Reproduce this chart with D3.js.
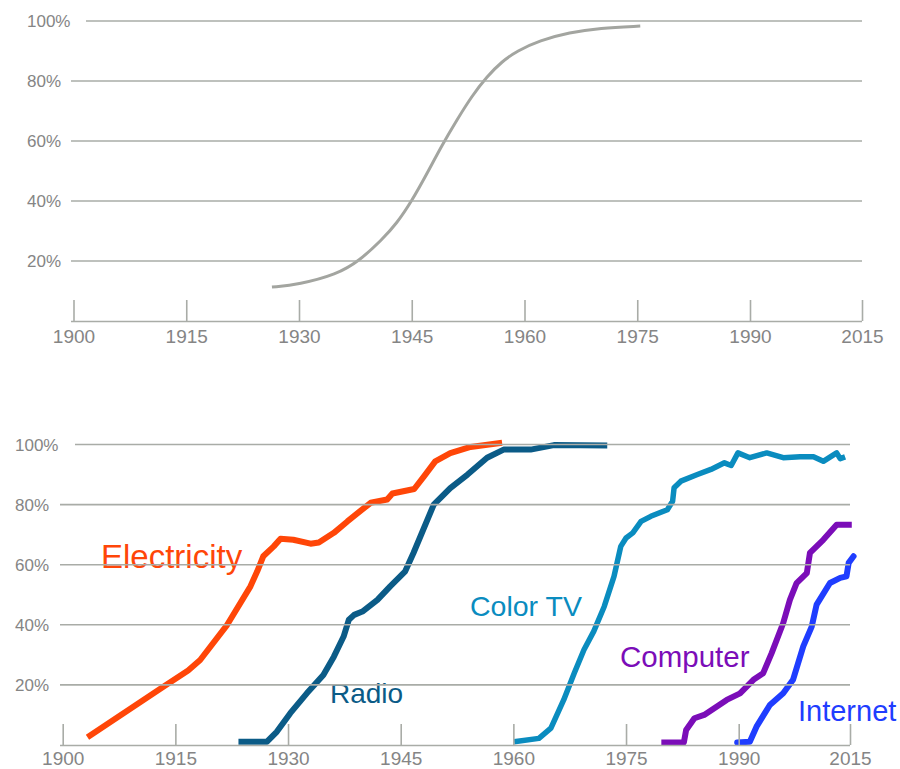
<!DOCTYPE html>
<html>
<head>
<meta charset="utf-8">
<script src="https://cdn.jsdelivr.net/npm/d3@7"></script>
<style>
  html, body { margin: 0; padding: 0; background: #ffffff; }
  svg { display: block; font-family: "Helvetica Neue", Helvetica, Arial, "Liberation Sans", sans-serif; }
</style>
</head>
<body>
<svg id="chart" width="900" height="769"></svg>
<script>
// Axis ticks shared by both panels
const yearTicks = [1900, 1915, 1930, 1945, 1960, 1975, 1990, 2015];
const shareTicks = [20, 40, 60, 80, 100];

// Idealised adoption S-curve (upper panel)
const sCurveYears = [1926.4, 1930, 1935, 1938, 1941, 1943, 1945, 1947, 1949, 1951, 1953, 1955, 1957, 1959, 1962, 1966, 1970, 1975.4];
const sCurveShare = [11.3, 12.2, 15.5, 20, 27, 32.5, 40, 49, 58.5, 67, 75, 81.5, 86.5, 90, 93.5, 96.2, 97.6, 98.3];

// Household adoption by technology (lower panel)
const electricityYears = [1903.3, 1913.4, 1916.7, 1918.3, 1921.9, 1925, 1925.9, 1926.7, 1928.1, 1929, 1930.7, 1933, 1934.1, 1936.1, 1937.9, 1939.6, 1941, 1943.2, 1943.9, 1946.8, 1948.1, 1949.6, 1951.6, 1954.3, 1958.5];
const electricityShare = [2.6, 19.4, 24.8, 28.3, 40, 52.8, 57.8, 62.8, 66.1, 68.6, 68.3, 67, 67.4, 70.6, 74.4, 77.8, 80.6, 81.7, 83.7, 85.2, 89.4, 94.4, 97.1, 99.2, 100.6];

const radioYears = [1923.4, 1927.2, 1928.5, 1930.3, 1932.5, 1934.7, 1936.1, 1937.4, 1938.1, 1938.8, 1939.9, 1941.9, 1943.6, 1945.6, 1946.7, 1949.4, 1951.6, 1953.9, 1956.5, 1958.7, 1962.3, 1965.4, 1972.5];
const radioShare = [1.1, 1.1, 4.4, 10.6, 17.2, 23.3, 29.4, 36.1, 41.7, 43.3, 44.4, 48.3, 52.8, 57.8, 63.9, 80, 85.5, 90, 95.6, 98.3, 98.3, 99.8, 99.7];

const colorTvYears = [1960.1, 1963.4, 1965, 1966.7, 1968.1, 1969.4, 1970.7, 1972.1, 1973.4, 1974.3, 1975, 1975.9, 1977, 1978.3, 1980.5, 1981.2, 1981.4, 1982.3, 1984.5, 1986.3, 1988.1, 1989, 1989.9, 1992.5, 1996.3, 2000, 2003.8, 2006.8, 2009, 2012, 2012.8, 2013.9];
const colorTvShare = [1.1, 2.2, 5.6, 15, 23.9, 31.7, 37.8, 46.1, 56.1, 66.1, 68.9, 70.6, 74.4, 76.1, 78.3, 81.1, 85.6, 87.8, 90, 91.7, 93.9, 93, 97.2, 95.6, 97.2, 95.6, 95.9, 95.9, 94.4, 97.2, 95.3, 95.9];

const computerYears = [1979.7, 1982.7, 1983, 1984.1, 1985.4, 1988.4, 1990.3, 1993.3, 1995.5, 1997.4, 2000, 2001.5, 2003, 2005.3, 2006, 2009, 2012, 2015.4];
const computerShare = [0.8, 0.8, 5, 8.9, 10, 15, 17.2, 21.7, 23.9, 30.6, 40.6, 48.3, 53.9, 57.2, 63.9, 68.3, 73.3, 73.3];

const internetYears = [1989.8, 1992.5, 1994, 1997, 2000, 2002.2, 2004.5, 2006.4, 2007.5, 2010.5, 2012.8, 2014.2, 2014.7, 2015.8];
const internetShare = [0.8, 1.1, 6.1, 13.3, 17.2, 21.7, 32.8, 39.4, 46.7, 53.9, 55.6, 56.1, 60.6, 62.8];

const seriesNames = ["Electricity", "Radio", "Color TV", "Computer", "Internet"];
const seriesColors = ["#ff4608", "#0b5b87", "#0a8cbf", "#7b0db8", "#1f3dff"];

const gridColor = "#a9aca7";
const textGray = "#858585";

const svg = d3.select("#chart");

function zip(xs, ys) { return xs.map((x, i) => ({ year: x, share: ys[i] })); }

// Draws one panel: frame (gridlines, ticks, labels) plus a set of lines
function drawPanel(cfg) {
  const x = d3.scaleLinear()
    .domain([1900, 1990, 2015])
    .range([cfg.x0, cfg.x1990, cfg.x2015]);
  const y = d3.scaleLinear().domain([0, 100]).range([cfg.yBottom, cfg.yTop]);

  const g = svg.append("g");
  const linesG = g.append("g");
  const frameG = g.append("g");

  // bottom axis with upward ticks
  const xAxis = d3.axisBottom(x)
    .tickValues(yearTicks)
    .tickFormat(d3.format("d"))
    .tickSizeInner(-cfg.tickLen)
    .tickSizeOuter(0)
    .tickPadding(cfg.labelPad);
  const ax = frameG.append("g")
    .attr("transform", `translate(0,${cfg.yBottom})`)
    .call(xAxis);
  ax.select(".domain")
    .attr("d", `M${cfg.gridStart},0.5H${cfg.x2015}`)
    .attr("stroke", gridColor).attr("stroke-width", 1.6);
  ax.selectAll(".tick line").attr("stroke", gridColor).attr("stroke-width", 1.6);
  ax.selectAll(".tick text")
    .attr("fill", textGray)
    .attr("font-size", 19)
    .attr("font-family", null);

  // horizontal gridlines with left-aligned percentage labels
  const grid = frameG.append("g");
  grid.selectAll("line")
    .data(shareTicks)
    .join("line")
    .attr("x1", d => d === 100 ? cfg.gridStart + 15 : cfg.gridStart)
    .attr("x2", cfg.x2015)
    .attr("y1", d => y(d))
    .attr("y2", d => y(d))
    .attr("stroke", gridColor)
    .attr("stroke-width", 1.6);
  grid.selectAll("text")
    .data(shareTicks)
    .join("text")
    .attr("x", cfg.labelX)
    .attr("y", d => y(d))
    .attr("dy", "0.36em")
    .attr("fill", textGray)
    .attr("font-size", 17)
    .text(d => d + "%");

  const line = d3.line()
    .x(d => x(d.year))
    .y(d => y(d.share))
    .curve(cfg.curve);

  cfg.series.forEach(s => {
    linesG.append("path")
      .datum(s.data)
      .attr("d", line)
      .attr("fill", "none")
      .attr("stroke", s.color)
      .attr("stroke-width", s.width)
      .attr("stroke-linejoin", "round")
      .attr("stroke-linecap", s.cap || "butt");
  });

  return { x, y, g: linesG };
}

// Upper panel: the generic S-curve
drawPanel({
  x0: 73.5, x1990: 750, x2015: 862,
  yTop: 21, yBottom: 321,
  gridStart: 71, labelX: 27, tickLen: 21, labelPad: 9,
  curve: d3.curveBasis,
  series: [{ data: zip(sCurveYears, sCurveShare), color: "#a3a5a0", width: 3, cap: "butt" }]
});

// Lower panel: real technologies
const lower = drawPanel({
  x0: 62.7, x1990: 738.7, x2015: 850,
  yTop: 444.5, yBottom: 745,
  gridStart: 60, labelX: 15, tickLen: 21, labelPad: 7,
  curve: d3.curveLinear,
  series: [
    { data: zip(electricityYears, electricityShare), color: seriesColors[0], width: 6 },
    { data: zip(radioYears, radioShare), color: seriesColors[1], width: 6 },
    { data: zip(colorTvYears, colorTvShare), color: seriesColors[2], width: 5.5 },
    { data: zip(computerYears, computerShare), color: seriesColors[3], width: 6 },
    { data: zip(internetYears, internetShare), color: seriesColors[4], width: 6, cap: "round" }
  ]
});

// Series name labels placed beside their lines
const labelSpots = [
  { x: 101, y: 568, size: 33 },
  { x: 330, y: 703, size: 28 },
  { x: 470, y: 616, size: 28.5 },
  { x: 620, y: 667, size: 29.5 },
  { x: 798, y: 721, size: 29 }
];
lower.g.selectAll("text.series-label")
  .data(seriesNames)
  .join("text")
  .attr("class", "series-label")
  .attr("x", (d, i) => labelSpots[i].x)
  .attr("y", (d, i) => labelSpots[i].y)
  .attr("font-size", (d, i) => labelSpots[i].size)
  .attr("fill", (d, i) => seriesColors[i])
  .text(d => d);
</script>
</body>
</html>
